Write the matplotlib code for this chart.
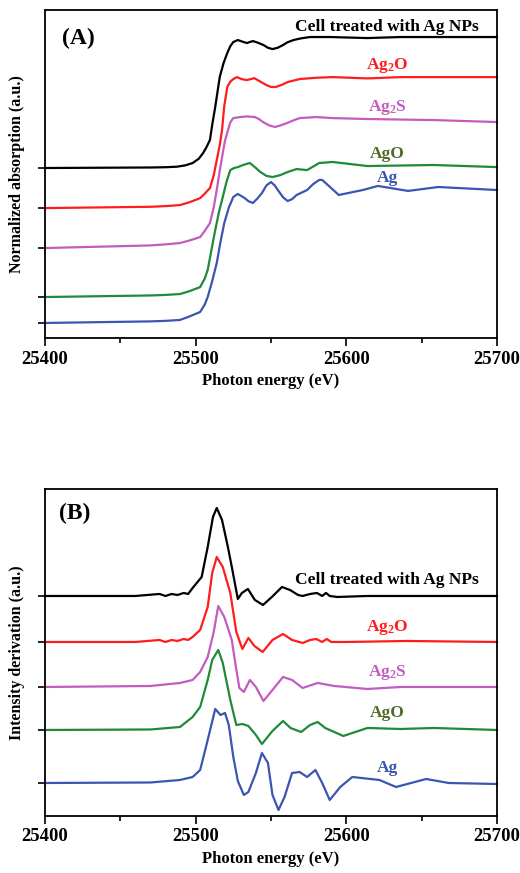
import numpy as np
import matplotlib
matplotlib.use("Agg")
import matplotlib.pyplot as plt

plt.rcParams["font.family"] = ["Liberation Serif", "DejaVu Serif"]
plt.rcParams["font.weight"] = "bold"
plt.rcParams["mathtext.fontset"] = "custom"
plt.rcParams["mathtext.rm"] = "Liberation Serif:bold"
plt.rcParams["mathtext.it"] = "Liberation Serif:bold"
plt.rcParams["mathtext.bf"] = "Liberation Serif:bold"

# ---- (A) normalized absorption, each curve: 0 before edge, ~1 after ----
xa_cell = [25400, 25470, 25480, 25487.6, 25493, 25498, 25502, 25505, 25507, 25509.5, 25511, 25513,
           25516, 25518.5, 25521, 25523, 25525, 25528, 25531, 25534, 25536, 25538, 25541, 25545,
           25548, 25551, 25554.5, 25558, 25561, 25565, 25570, 25576, 25589, 25614, 25636, 25658, 25700]
ya_cell = [0, 0.004, 0.006, 0.01, 0.02, 0.038, 0.07, 0.115, 0.155, 0.214, 0.33, 0.466,
           0.695, 0.80, 0.878, 0.93, 0.962, 0.977, 0.965, 0.954, 0.962, 0.969, 0.958, 0.939,
           0.918, 0.908, 0.918, 0.939, 0.96, 0.977, 0.99, 1.0, 1.0, 0.992, 1.0, 1.0, 1.0]
xa_ag2o = [25400, 25470, 25480, 25489.6, 25496, 25503, 25506, 25509.5, 25512, 25514, 25516, 25517.5,
           25519, 25521, 25523, 25525, 25527.4, 25530.5, 25534, 25536.5, 25539, 25543, 25547, 25550,
           25553, 25557, 25561, 25569, 25580, 25591, 25614, 25636, 25658, 25700]
ya_ag2o = [0, 0.01, 0.015, 0.023, 0.045, 0.076, 0.11, 0.153, 0.25, 0.366, 0.48, 0.595,
           0.78, 0.924, 0.965, 0.985, 1.0, 0.985, 0.977, 0.985, 0.992, 0.965, 0.939, 0.925,
           0.924, 0.94, 0.962, 0.985, 0.995, 1.0, 0.99, 1.0, 1.0, 1.0]
xa_ag2s = [25400, 25470, 25480, 25489.6, 25496, 25503, 25506, 25509.5, 25512, 25514, 25516, 25518,
           25519.5, 25521.5, 25523, 25525, 25529.6, 25534, 25539.3, 25542, 25544.7, 25548.5, 25552.6,
           25556, 25560.6, 25565, 25569, 25580, 25591, 25614, 25658, 25700]
ya_ag2s = [0, 0.02, 0.028, 0.038, 0.058, 0.084, 0.13, 0.191, 0.31, 0.443, 0.59, 0.725,
           0.82, 0.901, 0.96, 0.992, 1.0, 1.005, 1.0, 0.985, 0.962, 0.938, 0.924,
           0.935, 0.954, 0.975, 0.992, 1.0, 0.992, 0.985, 0.977, 0.962]
xa_ago = [25400, 25470, 25480, 25489.6, 25496, 25503, 25506, 25508, 25510.5, 25513, 25515.5, 25518,
          25520.5, 25523, 25525.5, 25528, 25532, 25536, 25539.5, 25543, 25547, 25551, 25556, 25561,
          25567, 25574, 25582, 25591, 25614, 25658, 25700]
ya_ago = [0, 0.012, 0.016, 0.023, 0.045, 0.076, 0.14, 0.206, 0.36, 0.511, 0.65, 0.763,
          0.88, 0.969, 0.985, 0.992, 1.01, 1.023, 0.99, 0.954, 0.925, 0.916, 0.93, 0.954,
          0.977, 0.969, 1.023, 1.031, 1.0, 1.008, 0.992]
xa_ag = [25400, 25470, 25480, 25489.6, 25496, 25503, 25506, 25508, 25511, 25514, 25516.5, 25519,
         25522, 25525, 25528, 25532.5, 25535, 25538, 25541, 25544, 25547, 25550, 25552.5, 25555,
         25558, 25561, 25564, 25567, 25574, 25578, 25582, 25584, 25589, 25595, 25611, 25621, 25641,
         25661, 25700]
ya_ag = [0, 0.012, 0.016, 0.023, 0.05, 0.084, 0.14, 0.198, 0.32, 0.458, 0.62, 0.763,
         0.88, 0.962, 0.985, 0.954, 0.93, 0.916, 0.95, 0.992, 1.05, 1.076, 1.05, 1.008,
         0.96, 0.931, 0.945, 0.977, 1.015, 1.06, 1.092, 1.092, 1.04, 0.977, 1.015, 1.046, 1.008,
         1.038, 1.015]
offs_a = [1.298, 0.992, 0.687, 0.313, 0.115]

# ---- (B) derivative, relative to each baseline ----
xb_cell = [25400, 25460, 25476, 25480, 25484, 25488, 25492, 25495, 25498, 25504, 25508, 25511.5,
           25514, 25517.5, 25521.4, 25524, 25528, 25530.7, 25534.7, 25539.3, 25544.7, 25550.6,
           25557.3, 25562.6, 25568, 25571, 25576, 25580.5, 25584, 25586.5, 25589, 25594, 25614,
           25636, 25700]
yb_cell = [0, 0, 0.02, 0.0, 0.02, 0.01, 0.03, 0.02, 0.08, 0.19, 0.49, 0.79,
           0.88, 0.76, 0.49, 0.29, -0.03, 0.03, 0.07, -0.04, -0.09, -0.01,
           0.09, 0.06, 0.01, 0.0, 0.02, 0.03, 0.0, 0.03, 0.0, -0.01, 0.0,
           0.0, 0.0]
xb_ag2o = [25400, 25460, 25476, 25480, 25484, 25488, 25492, 25495, 25498, 25503, 25508, 25511,
           25514, 25518, 25523, 25527, 25531, 25535, 25539, 25544.5, 25551, 25558, 25564, 25571,
           25576, 25580, 25584, 25587, 25590, 25600, 25640, 25700]
yb_ag2o = [0, 0, 0.02, 0.0, 0.02, 0.01, 0.03, 0.02, 0.05, 0.12, 0.35, 0.69,
           0.85, 0.75, 0.49, 0.10, -0.07, 0.04, -0.04, -0.10, 0.02, 0.08, 0.02, -0.01,
           0.02, 0.03, 0.0, 0.03, 0.0, 0.0, 0.01, 0.0]
xb_ag2s = [25400, 25470, 25489.6, 25498, 25503, 25508, 25512, 25515, 25519, 25524, 25526, 25529,
           25532, 25536, 25540, 25545, 25551, 25558, 25564, 25571, 25581, 25592, 25614, 25636, 25700]
yb_ag2s = [0, 0.01, 0.04, 0.07, 0.15, 0.30, 0.55, 0.81, 0.70, 0.47, 0.27, -0.01,
           -0.05, 0.07, 0.0, -0.14, -0.03, 0.10, 0.07, -0.01, 0.04, 0.01, -0.02, 0.0, 0.0]
xb_ago = [25400, 25470, 25489.6, 25498, 25503, 25508, 25511, 25515, 25518, 25523, 25527, 25531,
          25535, 25540, 25544, 25551, 25558, 25563, 25570, 25576, 25581, 25586, 25598, 25614,
          25636, 25658, 25700]
yb_ago = [0, 0.005, 0.03, 0.13, 0.23, 0.50, 0.70, 0.80, 0.67, 0.30, 0.05, 0.06,
          0.04, -0.05, -0.14, -0.01, 0.09, 0.02, -0.02, 0.05, 0.08, 0.02, -0.06, 0.02,
          0.01, 0.02, 0.0]
xb_ag = [25400, 25470, 25489.6, 25498, 25503, 25508, 25513, 25516.5, 25519.5, 25522, 25525, 25528,
         25532, 25535, 25540, 25544, 25548, 25551, 25555, 25559, 25564, 25569, 25574, 25579.5,
         25584, 25589, 25596, 25604, 25622, 25633, 25653, 25668, 25700]
yb_ag = [0, 0.005, 0.03, 0.06, 0.13, 0.43, 0.74, 0.68, 0.70, 0.58, 0.26, 0.02,
         -0.12, -0.09, 0.10, 0.30, 0.20, -0.12, -0.27, -0.14, 0.10, 0.11, 0.06, 0.13,
         0.0, -0.17, -0.04, 0.06, 0.03, -0.04, 0.04, 0.0, -0.01]
offs_b = [2.20, 1.74, 1.29, 0.86, 0.33]

names = ["Cell treated with Ag NPs", r"Ag$_2$O", r"Ag$_2$S", "AgO", "Ag"]
line_colors = ["#000000", "#ff1c1c", "#c35cc0", "#1f8a3a", "#3b55b0"]
text_colors = ["#000000", "#ff1c1c", "#c35cc0", "#4f6b28", "#3b55b0"]
lab_y_a = [2.374, 2.084, 1.763, 1.405, 1.221]
lab_y_b = [2.36, 1.88, 1.43, 1.03, 0.48]

xs_a = [xa_cell, xa_ag2o, xa_ag2s, xa_ago, xa_ag]
ys_a = [ya_cell, ya_ag2o, ya_ag2s, ya_ago, ya_ag]
xs_b = [xb_cell, xb_ag2o, xb_ag2s, xb_ago, xb_ag]
ys_b = [yb_cell, yb_ag2o, yb_ag2s, yb_ago, yb_ag]

fig = plt.figure(figsize=(5.2, 8.73), dpi=100)
axA = fig.add_axes([0.0865, 0.6128, 0.8692, 0.3757])
axB = fig.add_axes([0.0865, 0.0653, 0.8692, 0.3746])

def style(ax, offs, ylim, ylabel):
    ax.set_xlim(25400, 25700)
    ax.set_ylim(*ylim)
    ax.set_xticks([25400, 25500, 25600, 25700])
    ax.set_xticks([25450, 25550, 25650], minor=True)
    ax.set_yticks(offs)
    ax.set_yticklabels([])
    ax.tick_params(axis="x", which="major", direction="out", length=6, width=1.2,
                   labelsize=13.5, pad=3)
    ax.tick_params(axis="x", which="minor", direction="out", length=3.5, width=1.2)
    ax.tick_params(axis="y", direction="out", length=5, width=1.2, left=True, right=False)
    for lb in ax.get_xticklabels():
        lb.set_fontweight("bold")
    for sp in ax.spines.values():
        sp.set_linewidth(1.3)
    ax.set_xlabel("Photon energy (eV)", fontsize=12, fontweight="bold", labelpad=4)
    ax.set_ylabel(ylabel, fontsize=11.5, fontweight="bold", labelpad=6)

for i in range(5):
    axA.plot(xs_a[i], np.array(ys_a[i]) + offs_a[i], color=line_colors[i], lw=1.6,
             solid_joinstyle="round", clip_on=False)
    axA.text(25627, lab_y_a[i], names[i], color=text_colors[i], fontsize=12.5,
             fontweight="bold", ha="center", va="center")
    axB.plot(xs_b[i], np.array(ys_b[i]) + offs_b[i], color=line_colors[i], lw=1.6,
             solid_joinstyle="round", clip_on=False)
    axB.text(25627, lab_y_b[i], names[i], color=text_colors[i], fontsize=12.5,
             fontweight="bold", ha="center", va="center")

axA.text(25411, 2.29, "(A)", fontsize=17, fontweight="bold", ha="left", va="center")
axB.text(25409, 3.03, "(B)", fontsize=17, fontweight="bold", ha="left", va="center")

style(axA, offs_a, (0, 2.504), "Normalized absorption (a.u.)")
style(axB, offs_b, (0, 3.27), "Intensity derivation (a.u.)")

fig.savefig("out.png", dpi=100)
